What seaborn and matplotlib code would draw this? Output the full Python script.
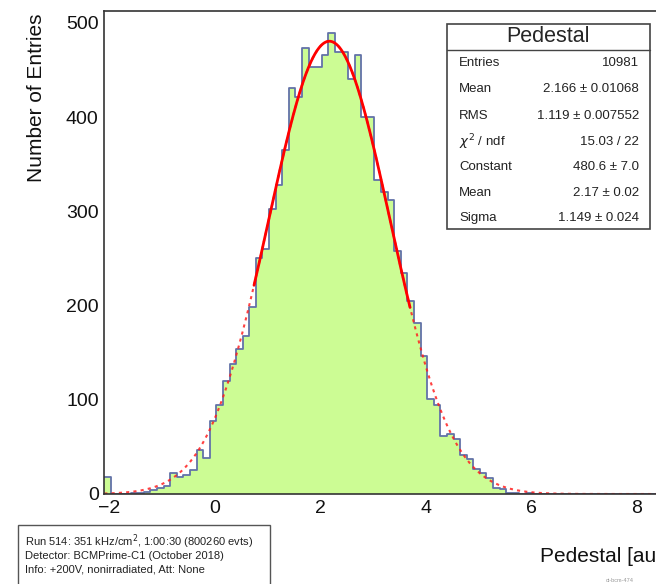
import numpy as np
import pandas as pd
import matplotlib
matplotlib.use("Agg")
import matplotlib.pyplot as plt
import seaborn as sns
from matplotlib.patches import Rectangle
from matplotlib.ticker import MultipleLocator

sns.set_style("white")
plt.rcParams["font.family"] = ["Liberation Sans", "DejaVu Sans"]

# pedestal histogram, 0.125 wide bins from -2.1
bin_start = -2.1
bin_width = 0.125
counts = [18, 0, 0, 0, 1, 1, 2, 4, 6, 8,
          22, 18, 20, 25, 47, 38, 78, 94, 120, 138,
          154, 168, 198, 250, 260, 302, 328, 365, 431, 421,
          473, 453, 453, 466, 489, 469, 469, 440, 466, 400,
          400, 333, 321, 312, 258, 235, 205, 182, 147, 101,
          94, 62, 64, 58, 41, 37, 27, 22, 17, 6,
          5, 1, 1, 0, 1] + [0] * 21

# gaussian fit result (from the stats box)
fit_const = 480.6
fit_mean = 2.17
fit_sigma = 1.149
fit_lo, fit_hi = 0.74, 3.7

stats_title = "Pedestal"
stats_labels = ["Entries", "Mean", "RMS", r"$\chi^{2}$ / ndf", "Constant", "Mean", "Sigma"]
stats_values = ["10981", "2.166 ± 0.01068", "1.119 ± 0.007552", "15.03 / 22",
                "480.6 ± 7.0", "2.17 ± 0.02", "1.149 ± 0.024"]

info_lines = ["Run 514: 351 kHz/cm$^{2}$, 1:00:30 (800260 evts)",
              "Detector: BCMPrime-C1 (October 2018)",
              "Info: +200V, nonirradiated, Att: None"]

W, H = 656, 584
fill_col = "#ccfc94"
line_col = "#6272a8"


def fx(p):
    return p / W


def fy(p):
    return 1 - p / H


n_bins = len(counts)
edges = bin_start + bin_width * np.arange(n_bins + 1)
centers = edges[:-1] + bin_width / 2
hist = pd.DataFrame({"pedestal": centers, "n": counts})

x_lo, x_hi = -2.1, 8.65
fig = plt.figure(figsize=(W / 100, H / 100), dpi=100)
ax = fig.add_axes([fx(104.3), fy(494), fx(671 - 104.3), (494 - 10.7) / H])

hkw = dict(data=hist, x="pedestal", weights="n", binwidth=bin_width,
           binrange=(edges[0], edges[-1]), element="step", ax=ax)
sns.histplot(fill=True, color=fill_col, alpha=1, linewidth=0, **hkw)
sns.histplot(fill=False, color=line_col, linewidth=1.3, **hkw)

xs_all = np.linspace(x_lo, x_hi, 600)
xs_fit = np.linspace(fit_lo, fit_hi, 300)
gauss = lambda v: fit_const * np.exp(-0.5 * ((v - fit_mean) / fit_sigma) ** 2)
sns.lineplot(x=xs_all, y=gauss(xs_all), color="#ff2020", linewidth=1.5,
             linestyle=(0, (1.5, 2.0)), alpha=0.85, ax=ax)
sns.lineplot(x=xs_fit, y=gauss(xs_fit), color="#ff0000", linewidth=2.0, ax=ax)

ax.set_xlim(x_lo, x_hi)
ax.set_ylim(0, 513)
ax.set_xlabel("")
ax.set_ylabel("")
ax.xaxis.set_major_locator(MultipleLocator(2))
ax.xaxis.set_minor_locator(MultipleLocator(0.5))
ax.yaxis.set_major_locator(MultipleLocator(100))
ax.yaxis.set_minor_locator(MultipleLocator(20))
ax.tick_params(which="both", direction="in", top=False, right=False, colors="#333333",
               labelcolor="#111111", labelsize=14)
ax.tick_params(which="major", length=14, width=1.1, pad=4)
ax.tick_params(which="minor", length=7, width=1.0)
for s in ax.spines.values():
    s.set_color("#333333")
    s.set_linewidth(1.2)

fig.text(fx(37), fy(13), "Number of Entries", rotation=90, ha="center", va="top",
         fontsize=15, color="#111111")
fig.text(fx(540), fy(556), "Pedestal [au]", ha="left", va="center", fontsize=15, color="#111111")

# stats box
fig.patches.append(Rectangle((fx(447), fy(229)), fx(650 - 447), (229 - 24) / H,
                             transform=fig.transFigure, facecolor="white",
                             edgecolor="#444444", linewidth=1.2, zorder=5))
fig.add_artist(plt.Line2D([fx(447), fx(650)], [fy(49.5), fy(49.5)],
                          transform=fig.transFigure, color="#444444", linewidth=1.0, zorder=6))
fig.text(fx(548), fy(37), stats_title, ha="center", va="center", fontsize=15.5, zorder=7)
row_y = [63.3, 89.3, 115.7, 141.7, 166.7, 192.7, 218.3]
for lab, val, yy in zip(stats_labels, stats_values, row_y):
    fig.text(fx(459), fy(yy), lab, ha="left", va="center", fontsize=9.5, color="#222222", zorder=7)
    fig.text(fx(639), fy(yy), val, ha="right", va="center", fontsize=9.5, color="#222222", zorder=7)

# run info box
fig.patches.append(Rectangle((fx(18), fy(600)), fx(270 - 18), (600 - 525) / H,
                             transform=fig.transFigure, facecolor="white",
                             edgecolor="#555555", linewidth=1.0, zorder=5))
for line, yy in zip(info_lines, [541.7, 556, 570]):
    fig.text(fx(25), fy(yy), line, ha="left", va="center", fontsize=8, color="#222222", zorder=7)

fig.text(fx(606), fy(580), "ct-bcm-474", ha="left", va="center", fontsize=4, color="#999999")

fig.savefig("out.png", dpi=100)
